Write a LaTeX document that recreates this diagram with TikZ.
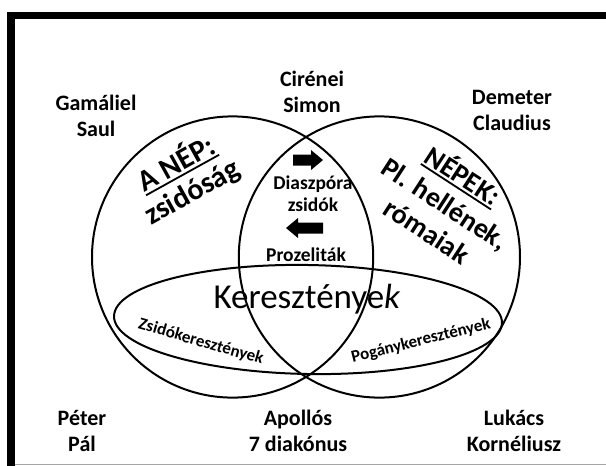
\documentclass[tikz,border=0pt]{standalone}
\usepackage{fontspec}
\setmainfont{Carlito}
\newcommand{\ulbox}[1]{\setbox0=\hbox{#1}\rlap{\rule[-4pt]{\wd0}{1.8pt}}\box0}
\tikzset{
  namelbl/.style={font=\bfseries\fontsize{22}{26}\selectfont, align=center, inner sep=0pt},
  midlbl/.style={font=\bfseries\fontsize{19.5}{21}\selectfont, inner sep=0pt},
  biglbl/.style={font=\bfseries\fontsize{30}{32}\selectfont, align=center, inner sep=0pt},
  sublbl/.style={font=\bfseries\fontsize{17}{20}\selectfont, inner sep=0pt},
  setline/.style={line width=2pt},
  blockarrow/.style={fill=black}
}
\begin{document}
\begin{tikzpicture}[x=1pt,y=-1pt]
\useasboundingbox (0,0) rectangle (606,466);
% frame
\fill (7,12) rectangle (15,466);
\fill (7,12) rectangle (606,19);
\draw[black!35, line width=1pt] (15,464.5) -- (606,464.5);
% sets
\draw[setline] (232.6,257) circle[radius=140.6pt];
\draw[setline] (379.4,257) circle[radius=140.6pt];
\draw[setline] (308,319.5) ellipse[x radius=194pt, y radius=54.5pt, rotate=-1];
% arrows
\fill[blockarrow] (293,154.5) -- (311,154.5) -- (311,150) -- (323,160) -- (311,170) -- (311,165.5) -- (293,165.5) -- cycle;
\fill[blockarrow] (286,228) -- (298,218) -- (298,222.5) -- (323,222.5) -- (323,233.5) -- (298,233.5) -- (298,238) -- cycle;
% outer labels
\node[namelbl] (gam) at (96,116) {Gamáliel\\Saul};
\node[namelbl] (cir) at (312,91.5) {Cirénei\\Simon};
\node[namelbl] (dem) at (512,110) {Demeter\\Claudius};
\node[namelbl] (pet) at (82,431) {Péter\\Pál};
\node[namelbl] (apo) at (298,431) {Apollós\\7 diakónus};
\node[namelbl] (luk) at (514,431) {Lukács\\Kornéliusz};
% big set labels
\node[biglbl, rotate=29] (nep) at (184,177.5) {\ulbox{A NÉP:}\\zsidóság};
\node[biglbl, rotate=-33, font=\bfseries\fontsize{28}{33}\selectfont] (nepek) at (446,202) {\ulbox{NÉPEK:}\\Pl. hellének,\\rómaiak};
% middle labels
\node[midlbl] (dia) at (313,184) {Diaszpóra};
\node[midlbl] (zsi) at (313,205) {zsidók};
\node[midlbl] (pro) at (306,255) {Prozeliták};
\node[font=\fontsize{35}{40}\selectfont, inner sep=0pt, anchor=base] (ker) at (307,308) {Kereszténye\textit{k}};
\node[sublbl, rotate=-16] (zsk) at (201,342) {Zsidókeresztények};
\node[sublbl, rotate=14] (pgk) at (421,341) {Pogánykeresztények};
\end{tikzpicture}
\end{document}
